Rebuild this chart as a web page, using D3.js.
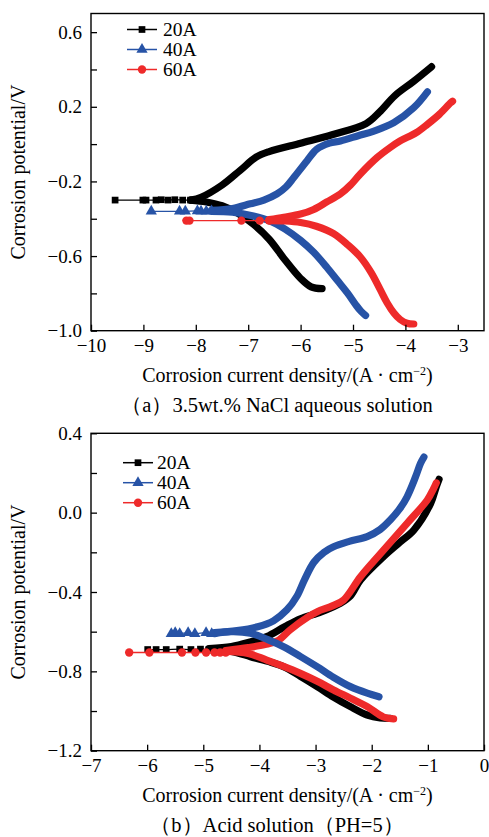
<!DOCTYPE html>
<html lang="en">
<head>
    <meta charset="UTF-8">
    <title>Tafel curves</title>
    <script src="https://cdn.jsdelivr.net/npm/d3@7/dist/d3.min.js"></script>
    <style>
        body { margin: 0; background: #fff; }
        svg text { font-family: "Liberation Serif", "Times New Roman", serif; fill: #000; }
    </style>
</head>
<body>
<div id="chart"></div>
<script>
    // legend / series
    const seriesNames = ["20A", "40A", "60A"];

    // panel (a) 3.5wt.% NaCl : [log i, E]
    const xTicksA = [-10, -9, -8, -7, -6, -5, -4, -3];
    const yTicksA = [-1.0, -0.8, -0.6, -0.4, -0.2, 0.0, 0.2, 0.4, 0.6];
    const yLabelsA = [-1.0, -0.6, -0.2, 0.2, 0.6];

    const a20Tip = [[-9.54, -0.30], [-9.01, -0.30], [-8.95, -0.30], [-8.76, -0.30], [-8.66, -0.298], [-8.53, -0.30], [-8.4, -0.298], [-8.25, -0.30], [-8.1, -0.30]];
    const a20Cath = [[-8.1, -0.30], [-7.8, -0.31], [-7.5, -0.33], [-7.2, -0.37], [-6.9, -0.43], [-6.6, -0.51], [-6.3, -0.62], [-6.0, -0.72], [-5.8, -0.765], [-5.59, -0.775]];
    const a20Anod = [[-8.1, -0.30], [-7.9, -0.285], [-7.5, -0.22], [-7.15, -0.14], [-6.85, -0.07], [-6.6, -0.04], [-6.0, 0.005], [-5.4, 0.05], [-4.75, 0.11], [-4.5, 0.17], [-4.2, 0.26], [-3.85, 0.335], [-3.5, 0.415]];

    const a40Tip = [[-8.85, -0.36], [-8.31, -0.36], [-8.2, -0.36], [-7.97, -0.358], [-7.9, -0.36], [-7.8, -0.36], [-7.7, -0.358]];
    const a40Cath = [[-7.7, -0.36], [-7.3, -0.365], [-6.9, -0.385], [-6.6, -0.41], [-6.3, -0.455], [-6.0, -0.516], [-5.75, -0.58], [-5.5, -0.66], [-5.3, -0.73], [-5.1, -0.80], [-4.95, -0.86], [-4.85, -0.895], [-4.76, -0.918]];
    const a40Anod = [[-7.7, -0.355], [-7.3, -0.345], [-6.96, -0.32], [-6.7, -0.30], [-6.45, -0.267], [-6.28, -0.23], [-6.13, -0.179], [-5.88, -0.09], [-5.69, -0.027], [-5.45, 0.005], [-5.24, 0.017], [-4.9, 0.045], [-4.6, 0.07], [-4.22, 0.115], [-3.84, 0.195], [-3.58, 0.28]];

    const a60Tip = [[-8.18, -0.41], [-8.12, -0.41], [-7.13, -0.41], [-6.78, -0.41], [-6.6, -0.41]];
    const a60Cath = [[-6.6, -0.41], [-6.3, -0.412], [-6.0, -0.42], [-5.7, -0.44], [-5.37, -0.48], [-5.1, -0.54], [-4.86, -0.605], [-4.65, -0.69], [-4.48, -0.78], [-4.35, -0.85], [-4.22, -0.905], [-4.1, -0.94], [-3.97, -0.96], [-3.84, -0.964]];
    const a60Anod = [[-6.6, -0.405], [-6.32, -0.392], [-6.0, -0.375], [-5.75, -0.35], [-5.5, -0.31], [-5.24, -0.267], [-5.05, -0.22], [-4.86, -0.16], [-4.54, -0.072], [-4.3, -0.02], [-4.1, 0.017], [-3.8, 0.06], [-3.58, 0.106], [-3.35, 0.16], [-3.14, 0.221], [-3.1, 0.23]];

    // panel (b) acid solution
    const xTicksB = [-7, -6, -5, -4, -3, -2, -1, 0];
    const yTicksB = [-1.2, -1.0, -0.8, -0.6, -0.4, -0.2, 0.0, 0.2, 0.4];
    const yLabelsB = [-1.2, -0.8, -0.4, 0.0, 0.4];

    const b20Tip = [[-5.99, -0.69], [-5.84, -0.69], [-5.66, -0.69], [-5.42, -0.688], [-5.22, -0.69], [-5.05, -0.688], [-4.9, -0.69]];
    const b20Cath = [[-4.9, -0.69], [-4.5, -0.70], [-4.16, -0.726], [-3.85, -0.75], [-3.57, -0.777], [-3.27, -0.825], [-2.97, -0.877], [-2.68, -0.93], [-2.38, -0.978], [-2.08, -1.02], [-1.85, -1.035], [-1.67, -1.037]];
    const b20Anod = [[-4.9, -0.685], [-4.5, -0.675], [-4.2, -0.655], [-3.87, -0.625], [-3.55, -0.575], [-3.27, -0.535], [-2.9, -0.50], [-2.56, -0.457], [-2.38, -0.42], [-2.2, -0.34], [-1.79, -0.222], [-1.5, -0.15], [-1.25, -0.088], [-0.95, 0.047], [-0.85, 0.13], [-0.8, 0.168]];

    const b40Tip = [[-5.57, -0.61], [-5.5, -0.605], [-5.42, -0.61], [-5.27, -0.605], [-5.15, -0.61], [-4.95, -0.605], [-4.85, -0.61]];
    const b40Cath = [[-4.8, -0.61], [-4.5, -0.60], [-4.16, -0.608], [-3.85, -0.64], [-3.57, -0.676], [-3.27, -0.725], [-2.97, -0.777], [-2.68, -0.83], [-2.38, -0.877], [-2.08, -0.91], [-1.87, -0.928]];
    const b40Anod = [[-4.8, -0.605], [-4.4, -0.595], [-4.03, -0.575], [-3.75, -0.545], [-3.51, -0.49], [-3.33, -0.42], [-3.2, -0.34], [-3.03, -0.25], [-2.85, -0.20], [-2.68, -0.172], [-2.4, -0.145], [-2.08, -0.121], [-1.85, -0.085], [-1.67, -0.037], [-1.5, 0.02], [-1.37, 0.08], [-1.22, 0.18], [-1.13, 0.249], [-1.07, 0.28]];

    const b60Tip = [[-6.32, -0.705], [-5.96, -0.705], [-5.38, -0.705], [-5.14, -0.705], [-4.95, -0.705], [-4.8, -0.705], [-4.7, -0.705], [-4.6, -0.705]];
    const b60Cath = [[-4.6, -0.70], [-4.2, -0.71], [-3.87, -0.743], [-3.57, -0.775], [-3.27, -0.81], [-2.97, -0.85], [-2.68, -0.894], [-2.38, -0.935], [-2.08, -0.978], [-1.79, -1.03], [-1.61, -1.04]];
    const b60Anod = [[-4.6, -0.695], [-4.2, -0.68], [-3.9, -0.665], [-3.67, -0.645], [-3.45, -0.59], [-3.13, -0.525], [-2.97, -0.499], [-2.7, -0.47], [-2.5, -0.44], [-2.2, -0.323], [-1.84, -0.205], [-1.37, -0.054], [-1.01, 0.064], [-0.9, 0.12], [-0.85, 0.15]];

    const colors = ["#000000", "#2753a6", "#ee2a2a"];
    const symbols = [d3.symbolSquare, d3.symbolTriangle, d3.symbolCircle];
    const symbolSizes = [45, 55, 55];

    let svg = d3.select("#chart").append("svg")
        .attr("width", 489)
        .attr("height", 837);

    let drawPanel = (p) => {
        let x = d3.scaleLinear().domain(p.xDomain).range([p.left, p.right]);
        let y = d3.scaleLinear().domain(p.yDomain).range([p.bottom, p.top]);
        let g = svg.append("g");

        let line = d3.line().x(d => x(d[0])).y(d => y(d[1])).curve(d3.curveCatmullRom.alpha(0.5));

        //curves: thin tip with markers, thick dense branches
        p.order.forEach(i => {
            let s = p.series[i];
            g.append("path").attr("d", line(s.tip))
                .attr("fill", "none").attr("stroke", colors[i]).attr("stroke-width", 1.3);
            [s.cath, s.anod].forEach(br => {
                g.append("path").attr("d", line(br))
                    .attr("fill", "none").attr("stroke", colors[i])
                    .attr("stroke-width", 7.2)
                    .attr("stroke-linecap", "round").attr("stroke-linejoin", "round");
            });
            g.selectAll(null).data(s.tip).enter().append("path")
                .attr("d", d3.symbol().type(symbols[i]).size(symbolSizes[i]))
                .attr("transform", d => "translate(" + x(d[0]) + "," + y(d[1]) + ")")
                .attr("fill", colors[i]);
        });

        //frame
        g.append("rect")
            .attr("x", p.left).attr("y", p.top)
            .attr("width", p.right - p.left).attr("height", p.bottom - p.top)
            .attr("fill", "none").attr("stroke", "#000").attr("stroke-width", 1.4);

        let fmtY = d3.format(".1f");
        let yAxis = d3.axisLeft(y).tickValues(p.yTicks)
            .tickSizeInner(-6).tickSizeOuter(0).tickPadding(9)
            .tickFormat(d => p.yLabels.some(v => Math.abs(v - d) < 1e-6) ? fmtY(d) : "");
        let xAxis = d3.axisBottom(x).tickValues(p.xTicks)
            .tickSizeInner(-6).tickSizeOuter(0).tickPadding(8)
            .tickFormat(d3.format("d"));

        let ya = g.append("g").attr("transform", "translate(" + p.left + ",0)").call(yAxis);
        let xa = g.append("g").attr("transform", "translate(0," + p.bottom + ")").call(xAxis);
        [ya, xa].forEach(a => {
            a.select(".domain").remove();
            a.selectAll(".tick line").attr("stroke-width", 1.3);
            a.selectAll(".tick text").style("font-size", "19px").style("font-family", "Liberation Serif");
        });

        //axis titles
        g.append("text")
            .attr("transform", "translate(25," + ((p.top + p.bottom) / 2) + ") rotate(-90)")
            .attr("text-anchor", "middle").style("font-size", "20px")
            .text("Corrosion potential/V");

        let xt = g.append("text")
            .attr("x", (p.left + p.right) / 2).attr("y", p.bottom + 51)
            .attr("text-anchor", "middle").style("font-size", "20px");
        xt.append("tspan").text("Corrosion current density/(A \u00b7 cm");
        xt.append("tspan").attr("dy", -7).style("font-size", "12px").text("\u22122");
        xt.append("tspan").attr("dy", 7).text(")");

        g.append("text")
            .attr("x", 277).attr("y", p.bottom + 81)
            .attr("text-anchor", "middle").style("font-size", "20.5px")
            .text(p.caption);

        //legend
        seriesNames.forEach((name, i) => {
            let ly = p.legend.y + i * p.legend.dy;
            g.append("line")
                .attr("x1", p.legend.x).attr("x2", p.legend.x + 30)
                .attr("y1", ly).attr("y2", ly)
                .attr("stroke", colors[i]).attr("stroke-width", 1.5);
            g.append("path")
                .attr("d", d3.symbol().type(symbols[i]).size(symbolSizes[i]))
                .attr("transform", "translate(" + (p.legend.x + 15) + "," + ly + ")")
                .attr("fill", colors[i]);
            g.append("text")
                .attr("x", p.legend.x + p.legend.gap).attr("y", ly + 6.5)
                .style("font-size", "19.5px")
                .text(name);
        });
    };

    drawPanel({
        left: 91, right: 484, top: 13.5, bottom: 330.7,
        xDomain: [-10, -2.5], yDomain: [-1.0, 0.7],
        xTicks: xTicksA, yTicks: yTicksA, yLabels: yLabelsA,
        series: [
            { tip: a20Tip, cath: a20Cath, anod: a20Anod },
            { tip: a40Tip, cath: a40Cath, anod: a40Anod },
            { tip: a60Tip, cath: a60Cath, anod: a60Anod }
        ],
        order: [0, 1, 2],
        caption: "\uff08a\uff093.5wt.% NaCl aqueous solution",
        legend: { x: 127, y: 29.5, dy: 20, gap: 36 }
    });

    drawPanel({
        left: 91, right: 484, top: 433.3, bottom: 750.7,
        xDomain: [-7, 0], yDomain: [-1.2, 0.4],
        xTicks: xTicksB, yTicks: yTicksB, yLabels: yLabelsB,
        series: [
            { tip: b20Tip, cath: b20Cath, anod: b20Anod },
            { tip: b40Tip, cath: b40Cath, anod: b40Anod },
            { tip: b60Tip, cath: b60Cath, anod: b60Anod }
        ],
        order: [0, 2, 1],
        caption: "\uff08b\uff09Acid solution\uff08PH=5\uff09",
        legend: { x: 123, y: 462.7, dy: 20, gap: 34 }
    });
</script>
</body>
</html>
